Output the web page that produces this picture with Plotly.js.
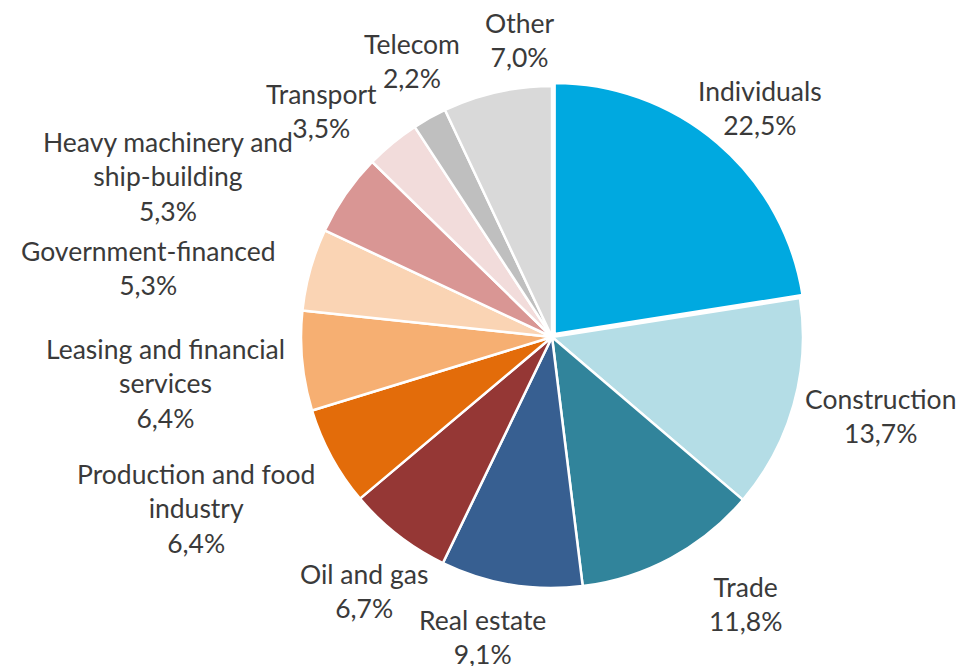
<!DOCTYPE html>
<html>
<head>
<meta charset="utf-8">
<script src="https://cdn.plot.ly/plotly-3.0.1.min.js"></script>
<style>html,body{margin:0;padding:0;background:#fff;}#chart{width:961px;height:666px;}</style>
</head>
<body>
<div id="chart"></div>
<script>
// Data
var categories = ["Individuals", "Construction", "Trade", "Real estate", "Oil and gas",
  "Production and food industry", "Leasing and financial services", "Government-financed",
  "Heavy machinery and ship-building", "Transport", "Telecom", "Other"];
var displayLabels = ["Individuals", "Construction", "Trade", "Real estate", "Oil and gas",
  "Production and food<br>industry", "Leasing and financial<br>services", "Government-financed",
  "Heavy machinery and<br>ship-building", "Transport", "Telecom", "Other"];
var shares = [22.5, 13.7, 11.8, 9.1, 6.7, 6.4, 6.4, 5.3, 5.3, 3.5, 2.2, 7.0];
var colors = ["#00A9E0", "#B4DDE6", "#31849B", "#375F91", "#953735", "#E36C0A",
  "#F6AF72", "#FAD4B4", "#D99694", "#F2DCDB", "#BFBFBF", "#D9D9D9"];

// Label placement (pixel centers of each label block)
var labelPos = [[760,108],[880,416],[745,604],[483,637],[364,591],[196,508],
  [165,383],[148,268],[168,176],[321,111],[412,61],[519,40]];

var W = 961, H = 666;
var cx = 552, cy = 337, R = 255;

var annotations = categories.map(function(c, i) {
  return {
    xref: 'paper', yref: 'paper',
    x: labelPos[i][0] / W, y: 1 - labelPos[i][1] / H,
    xanchor: 'center', yanchor: 'middle', showarrow: false,
    text: displayLabels[i] + '<br>' + shares[i].toFixed(1).replace('.', ',') + '%',
    font: {family: 'Lato, "Open Sans", sans-serif', size: 26.5, color: '#3a3a3a'},
    align: 'center'
  };
});

var trace = {
  type: 'pie',
  labels: categories,
  values: shares,
  sort: false,
  direction: 'clockwise',
  rotation: 0,
  pull: [0.016, 0, 0, 0, 0, 0, 0, 0, 0, 0, 0, 0],
  marker: {colors: colors, line: {color: '#ffffff', width: 2.5}},
  textinfo: 'none',
  hoverinfo: 'label+value',
  domain: {x: [(cx - R) / W, (cx + R) / W], y: [1 - (cy + R) / H, 1 - (cy - R) / H]}
};

var layout = {
  width: W, height: H,
  margin: {l: 0, r: 0, t: 0, b: 0},
  paper_bgcolor: '#ffffff',
  showlegend: false,
  annotations: annotations
};

Plotly.newPlot('chart', [trace], layout, {displayModeBar: false, staticPlot: true});
</script>
</body>
</html>
